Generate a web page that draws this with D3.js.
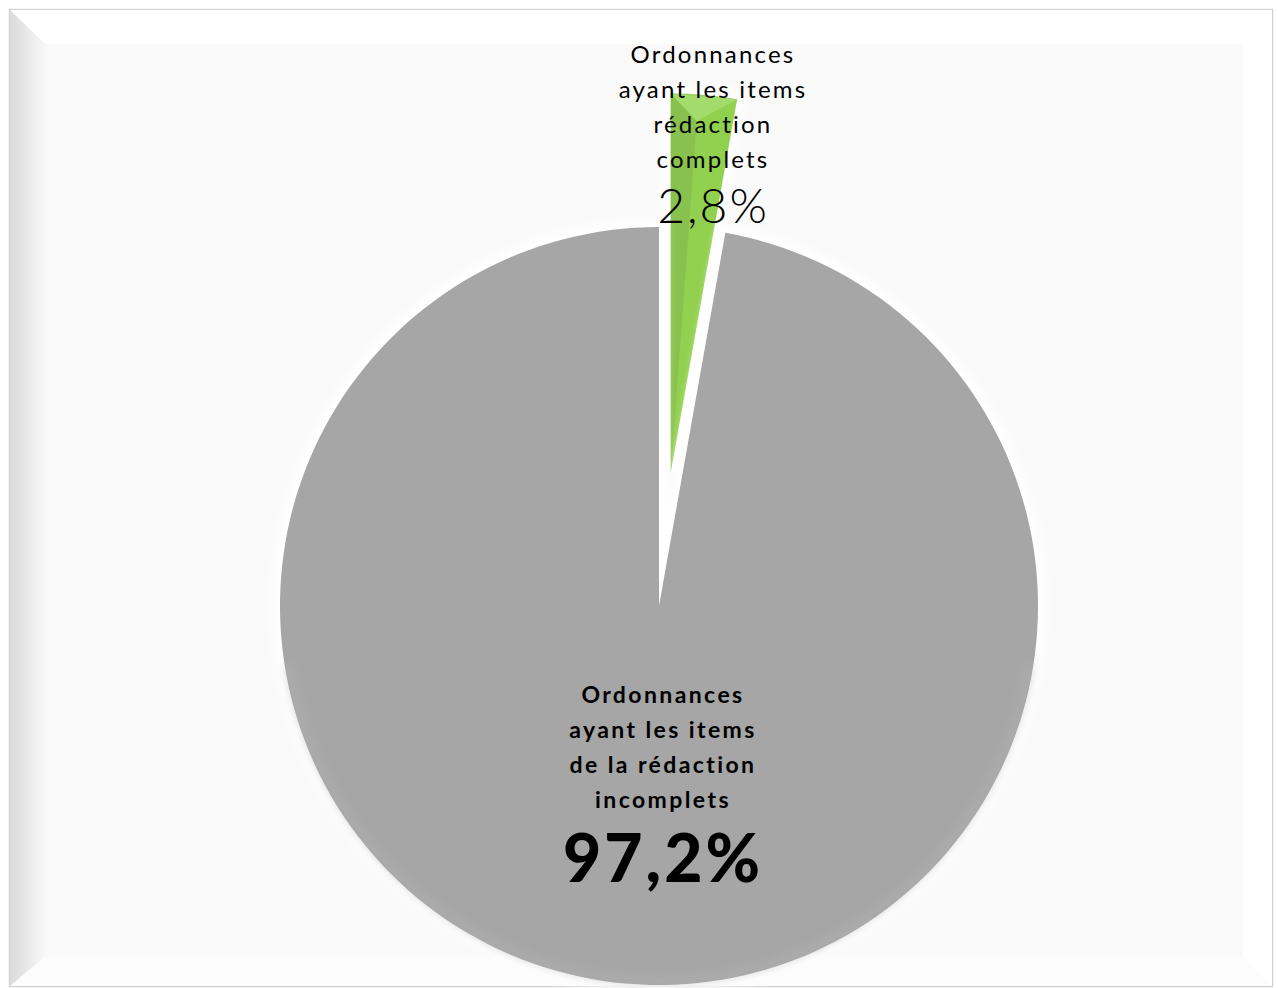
<!DOCTYPE html>
<html>
<head>
<meta charset="utf-8">
<script src="https://cdn.jsdelivr.net/npm/d3@7"></script>
<style>
  html, body { margin: 0; padding: 0; background: #ffffff; }
  svg { display: block; }
</style>
</head>
<body>
<svg id="chart" width="1278" height="988"></svg>
<script>
// Répartition des ordonnances selon la complétude des items de rédaction
const categories = [
  ["Ordonnances", "ayant les items", "rédaction", "complets"],
  ["Ordonnances", "ayant les items", "de la rédaction", "incomplets"]
];
const values = [2.8, 97.2];
const valueLabels = ["2,8%", "97,2%"];
const colors = ["#92d050", "#a6a6a6"];

const W = 1278, H = 988;
const svg = d3.select("#chart");
const defs = svg.append("defs");

// ---- bevelled frame ----
const leftGrad = defs.append("linearGradient").attr("id", "leftBevel")
  .attr("x1", "0").attr("x2", "1").attr("y1", "0").attr("y2", "0");
leftGrad.append("stop").attr("offset", "0").attr("stop-color", "#dadada");
leftGrad.append("stop").attr("offset", "1").attr("stop-color", "#f7f7f7");

const fx0 = 10, fy0 = 10, fx1 = 1272, fy1 = 986;
const ix0 = 45, iy0 = 44, ix1 = 1243, iy1 = 957;
svg.append("rect").attr("x", 0).attr("y", 0).attr("width", W).attr("height", H).attr("fill", "#ffffff");
svg.append("rect").attr("x", fx0 - 0.5).attr("y", fy0 - 0.5)
  .attr("width", fx1 - fx0 + 1).attr("height", fy1 - fy0 + 1)
  .attr("fill", "#fafafa").attr("stroke", "#d3d3d3").attr("stroke-width", 1.5);
const poly = pts => "M" + pts.map(p => p.join(",")).join("L") + "Z";
svg.append("path").attr("d", poly([[fx0, fy0], [fx1, fy0], [ix1, iy0], [ix0, iy0]])).attr("fill", "#ffffff");
svg.append("path").attr("d", poly([[fx0, fy0], [ix0, iy0], [ix0, iy1], [fx0, fy1]])).attr("fill", "url(#leftBevel)");
svg.append("path").attr("d", poly([[fx0, fy1], [ix0, iy1], [ix1, iy1], [fx1, fy1]])).attr("fill", "#fcfcfc");
svg.append("path").attr("d", poly([[fx1, fy0], [fx1, fy1], [ix1, iy1], [ix1, iy0]])).attr("fill", "#ffffff");
svg.append("rect").attr("x", ix0).attr("y", iy0).attr("width", ix1 - ix0).attr("height", iy1 - iy0).attr("fill", "#fafafa");

// ---- pie ----
const cx = 659, cy = 606, R = 379;
const explode = [134, 0];

const pie = d3.pie().sort(null).value(d => d)(values);
const arc = d3.arc().innerRadius(0).outerRadius(R);

// soft white glow around slices
const glow = defs.append("filter").attr("id", "glow")
  .attr("x", "-20%").attr("y", "-20%").attr("width", "140%").attr("height", "140%");
glow.append("feGaussianBlur").attr("stdDeviation", 5);

const soft = defs.append("filter").attr("id", "soft")
  .attr("x", "-5%").attr("y", "-5%").attr("width", "110%").attr("height", "110%");
soft.append("feGaussianBlur").attr("stdDeviation", 0.7);

const sliceG = svg.append("g").selectAll("g").data(pie).join("g")
  .attr("transform", (d, i) => {
    const mid = (d.startAngle + d.endAngle) / 2;
    const ox = explode[i] * Math.sin(mid), oy = -explode[i] * Math.cos(mid);
    return `translate(${cx + ox},${cy + oy})`;
  });

sliceG.append("path").attr("d", arc)
  .attr("fill", "none").attr("stroke", "#ffffff").attr("stroke-width", 14)
  .attr("filter", "url(#glow)");

sliceG.append("path").attr("d", arc)
  .attr("fill", (d, i) => colors[i])
  .attr("filter", "url(#soft)");

// faint light rim along the lower edge of the large slice
sliceG.filter((d, i) => i === 1).append("path")
  .attr("d", d3.arc().innerRadius(R - 6).outerRadius(R - 2)
    .startAngle(Math.PI * 0.55).endAngle(Math.PI * 1.45)())
  .attr("fill", "#b2b2b2").attr("filter", "url(#glow)");

// bevelled faces of the small wedge
const wedgeFaces = sliceG.filter((d, i) => i === 0);
const facePts = d => {
  const mid = d.startAngle + (d.endAngle - d.startAngle) * 0.42;
  return {
    p0: [R * Math.sin(d.startAngle), -R * Math.cos(d.startAngle)],
    p1: [R * 0.93 * Math.sin(mid), -R * 0.93 * Math.cos(mid)],
    p2: [R * Math.sin(d.endAngle), -R * Math.cos(d.endAngle)]
  };
};
wedgeFaces.append("path")
  .attr("d", d => { const f = facePts(d); return `M0,0L${f.p0}L${f.p1}Z`; })
  .attr("fill", "#88c14d");
wedgeFaces.append("path")
  .attr("d", d => { const f = facePts(d); return `M${f.p0}L${f.p1}L${f.p2}Z`; })
  .attr("fill", "#a3dc6c");

// ---- labels ----
const labelFont = "Lato, 'Noto Sans', sans-serif";
const labelPos = [[713, 63, 35, 223], [663, 703, 35, 882]];
const labelStyle = [
  { size: 24, weight: 400, spacing: 2.2, vsize: 48, vweight: 300, vspacing: 2 },
  { size: 23, weight: 700, spacing: 2.4, vsize: 66, vweight: 900, vspacing: 3 }
];

pie.forEach((d, i) => {
  const [lx, ly, lh, vy] = labelPos[i];
  const st = labelStyle[i];
  const g = svg.append("g").attr("font-family", labelFont).attr("fill", "#000").attr("text-anchor", "middle");
  categories[i].forEach((line, k) => {
    g.append("text").attr("x", lx).attr("y", ly + k * lh)
      .attr("font-size", st.size).attr("font-weight", st.weight)
      .attr("letter-spacing", st.spacing)
      .text(line);
  });
  g.append("text").attr("x", lx).attr("y", vy)
    .attr("font-size", st.vsize).attr("font-weight", st.vweight)
    .attr("letter-spacing", st.vspacing)
    .text(valueLabels[i]);
});
</script>
</body>
</html>
